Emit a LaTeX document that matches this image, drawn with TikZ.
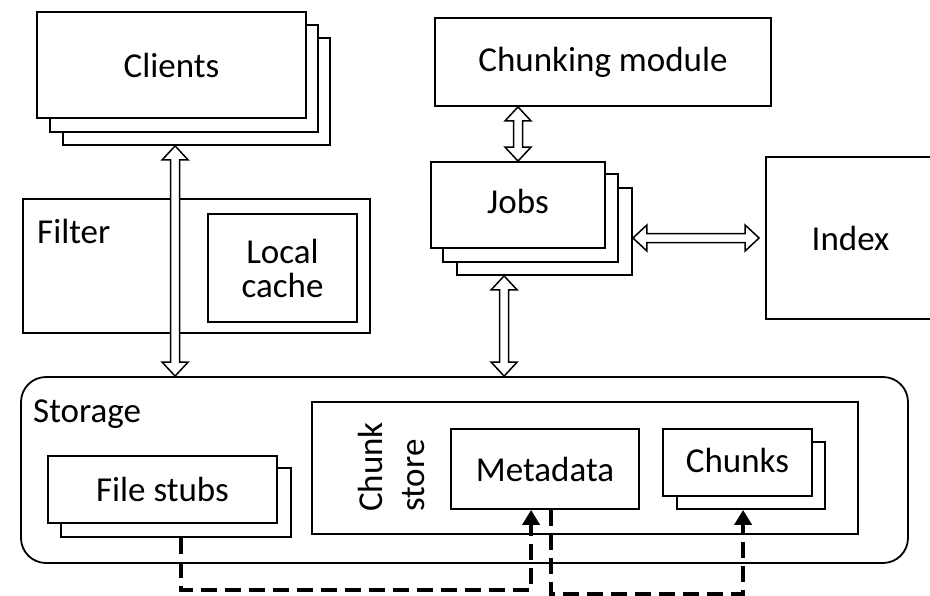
\documentclass[tikz,border=0pt]{standalone}
\usepackage{fontspec}
\setmainfont{Carlito}
\usetikzlibrary{arrows.meta,calc}
\tikzset{
  box/.style={draw, line width=1.8pt, fill=white, inner sep=0pt, rectangle},
  hollow/.style={draw, line width=1.5pt, fill=white, line join=miter},
  dashline/.style={line width=4pt, dash pattern=on 16pt off 8pt, -{Triangle[length=15pt,width=17pt]}},
  lbl/.style={inner sep=0pt},
}
\newcommand\vdarrow[2]{% x and top y from #1, bottom y from #2
  \draw[hollow] let \p1=#1, \p2=#2 in
    (\x1,\y1) -- (\x1+13pt,\y1-14pt) -- (\x1+4.5pt,\y1-14pt) -- (\x1+4.5pt,\y2+14pt)
    -- (\x1+13pt,\y2+14pt) -- (\x1,\y2) -- (\x1-13pt,\y2+14pt) -- (\x1-4.5pt,\y2+14pt)
    -- (\x1-4.5pt,\y1-14pt) -- (\x1-13pt,\y1-14pt) -- cycle;}
\newcommand\hdarrow[2]{% left x from #1, right x and y from #2
  \draw[hollow] let \p1=#1, \p2=#2 in
    (\x1,\y2) -- (\x1+14pt,\y2+13pt) -- (\x1+14pt,\y2+4.5pt) -- (\x2-20pt,\y2+4.5pt)
    -- (\x2-20pt,\y2+13pt) -- (\x2-6pt,\y2) -- (\x2-20pt,\y2-13pt) -- (\x2-20pt,\y2-4.5pt)
    -- (\x1+14pt,\y2-4.5pt) -- (\x1+14pt,\y2-13pt) -- cycle;}
\begin{document}
\begin{tikzpicture}[x=1pt,y=-1pt,font=\fontsize{35}{38}\selectfont]
\useasboundingbox (0,0) rectangle (930,595);

% Clients stack
\node[box, minimum width=267pt, minimum height=107pt] (cl3) at (196.5,91.5) {};
\node[box, minimum width=268pt, minimum height=107pt] (cl2) at (184,78.5) {};
\node[box, minimum width=269pt, minimum height=106pt] (cl) at (171.5,65) {Clients};

% Filter
\node[box, minimum width=347pt, minimum height=134pt] (filter) at (196.5,266) {};
\node[lbl, anchor=base west] (filterlbl) at (37,243) {Filter};
\node[box, minimum width=149pt, minimum height=108pt, align=center,
      font=\fontsize{35}{34}\selectfont] (cache) at (282.5,268) {Local\\cache};

% Chunking module
\node[box, minimum width=336pt, minimum height=88pt] (chunking) at (603,62) {Chunking module};

% Jobs stack
\node[box, minimum width=175pt, minimum height=87pt] (jobs3) at (544.5,231.5) {};
\node[box, minimum width=175pt, minimum height=88pt] (jobs2) at (530.5,218) {};
\node[box, minimum width=174pt, minimum height=86pt] (jobs) at (518,205) {};
\node[lbl] (jobslbl) at (518,201) {Jobs};

% Index
\node[box, minimum width=169pt, minimum height=162pt] (index) at (850.5,238) {Index};

% Storage
\node[box, rounded corners=25pt, minimum width=887pt, minimum height=186pt] (storage) at (464.5,470) {};
\node[lbl, anchor=base west] (storagelbl) at (33,422) {Storage};

% Chunk store
\node[box, minimum width=546pt, minimum height=132pt] (store) at (585,468) {};
\node[lbl, rotate=90, align=left, font=\fontsize{35}{42}\selectfont] (storelbl) at (391,467) {Chunk\\store};
\node[box, minimum width=188pt, minimum height=80pt] (meta) at (545,469) {Metadata};
\node[box, minimum width=148pt, minimum height=67pt] (chunks2) at (751,475.5) {};
\node[box, minimum width=149pt, minimum height=67pt] (chunks) at (737.5,462.5) {};
\node[lbl] (chunkslbl) at (737.5,460) {Chunks};

% File stubs
\node[box, minimum width=230pt, minimum height=69pt] (fs2) at (176,502.5) {};
\node[box, minimum width=229pt, minimum height=67pt] (fs) at (162.5,489.5) {File stubs};

% Hollow double arrows
\vdarrow{([xshift=113pt]cl3.south west)}{(storage.north)}
\vdarrow{([xshift=48pt]jobs3.south west)}{(storage.north)}
\draw[hollow] let \p1=(jobs.north), \p2=(chunking.south) in
    (\x1,\y2) -- (\x1+13pt,\y2-14pt) -- (\x1+4.5pt,\y2-14pt) -- (\x1+4.5pt,\y1+14pt)
    -- (\x1+13pt,\y1+14pt) -- (\x1,\y1) -- (\x1-13pt,\y1+14pt) -- (\x1-4.5pt,\y1+14pt)
    -- (\x1-4.5pt,\y2-14pt) -- (\x1-13pt,\y2-14pt) -- cycle;
\hdarrow{(jobs3.east)}{(index.west)}

% Dashed references
\draw[dashline] ([xshift=121pt]fs2.south west) -- ++(0,52) -| ([xshift=81pt]meta.south west);
\draw[dashline] ([xshift=101pt]meta.south west) -- ++(0,84) -| ([xshift=67pt]chunks2.south west);
\end{tikzpicture}
\end{document}
